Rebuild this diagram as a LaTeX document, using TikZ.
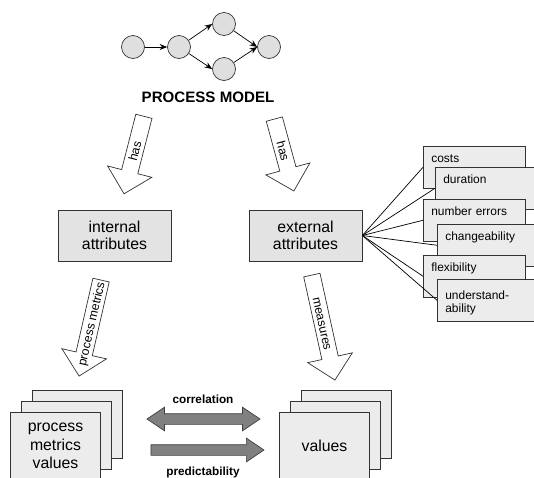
\documentclass[tikz,border=0pt]{standalone}
\usepackage{fontspec}
\setmainfont{Liberation Sans}
\usetikzlibrary{arrows.meta, shapes.arrows, positioning}
\tikzstyle{flow} = [thin, -{Stealth[length=1.5mm, width=1.2mm]}]
\tikzstyle{state} = [circle, draw=black!80, fill=gray!25, minimum size=4.6mm, inner sep=0pt]
\tikzstyle{attr} = [draw=black!80, fill=gray!22, minimum width=22.6mm, minimum height=10.2mm, align=center, font=\fontsize{9}{10}\selectfont]
\tikzstyle{metric} = [draw=black!80, fill=gray!15, anchor=north west, align=left, text width=17.2mm, inner xsep=1.6mm, inner ysep=4.1pt, text height=5pt, text depth=10.6pt, font=\fontsize{6.8}{7.6}\selectfont]
\tikzstyle{sheet} = [draw=black!80, fill=gray!15, minimum width=18mm, minimum height=13.6mm, align=center, font=\fontsize{9}{10.5}\selectfont]
\tikzstyle{hollow} = [single arrow, draw=black!80, fill=white, single arrow head extend=2.9mm, inner xsep=0pt, inner ysep=2.1pt, text height=4.9pt, text depth=0pt, font=\fontsize{7}{8}\selectfont]
\tikzstyle{fatboth} = [double arrow, draw=black!75, fill=black!50, double arrow head extend=1.3mm, double arrow tip angle=68, inner xsep=0pt, inner ysep=1mm, minimum height=22.6mm]
\tikzstyle{fatone} = [single arrow, draw=black!75, fill=black!50, single arrow head extend=1.3mm, single arrow tip angle=68, inner xsep=0pt, inner ysep=1mm, minimum height=22.6mm]

\begin{document}
\begin{tikzpicture}[x=0.02cm, y=-0.02cm]
    \useasboundingbox (0,0) rectangle (534,477);
    \clip (0,0) rectangle (534,477);
    \node[state] (s1) at (133,47) {};
    \node[state] (s2) at (179,47) {};
    \node[state] (s3) at (224,24) {};
    \node[state] (s4) at (224,69) {};
    \node[state] (s5) at (269,47) {};
    \draw[flow] (s1) -- (s2);
    \draw[flow] (s2) -- (s3.west);
    \draw[flow] (s2) -- (s4.west);
    \draw[flow] (s3) -- (s5.west);
    \draw[flow] (s4) -- (s5.west);
    \node[font=\bfseries\fontsize{8.6}{10}\selectfont] (model) at (208,97) {PROCESS MODEL};

    \node[hollow, rotate=75.6, shape border rotate=180, minimum height=16mm] (hasint) at (135,151) {has};
    \node[hollow, rotate=-74.8, minimum height=14.9mm] (hasext) at (283,151) {has};

    \node[attr] (int) at (114.5,235.5) {internal\\attributes};
    \node[attr] (ext) at (305.5,235.5) {external\\attributes};

    \node[metric] (costs) at (423,146) {costs};
    \node[metric] (duration) at (435,167) {duration};
    \node[metric] (errors) at (423,199) {number errors};
    \node[metric] (change) at (437,224) {changeability};
    \node[metric] (flex) at (423,255) {flexibility};
    \node[metric, text height=7.4pt, text depth=8.2pt] (underst) at (437,279) {understand-\\ability};
    \foreach \m in {costs, duration, errors, change, flex, underst}
      \draw (ext.east) -- (\m.west);

    \node[hollow, rotate=77.1, shape border rotate=180, minimum height=19.7mm] (pm) at (91,324) {process metrics};
    \node[hollow, rotate=-77.6, minimum height=21.5mm] (meas) at (322.5,323.5) {measures};

    \node[sheet] (pmv3) at (77.5,424) {};
    \node[sheet] (pmv2) at (66.5,435) {};
    \node[sheet] (pmv) at (55.5,446) {process\\metrics\\values};
    \node[sheet] (val3) at (346.5,424) {};
    \node[sheet] (val2) at (335.5,435) {};
    \node[sheet] (val) at (324.5,446) {values};

    \node[fatboth] (corr) at (203.5,419) {};
    \node[fatone] (pred) at (203.5,450) {};
    \node[font=\bfseries\fontsize{6.7}{8}\selectfont] (corrtxt) at (203,399) {correlation};
    \node[font=\bfseries\fontsize{6.7}{8}\selectfont] (predtxt) at (203,472) {predictability};
  \end{tikzpicture}
\end{document}
